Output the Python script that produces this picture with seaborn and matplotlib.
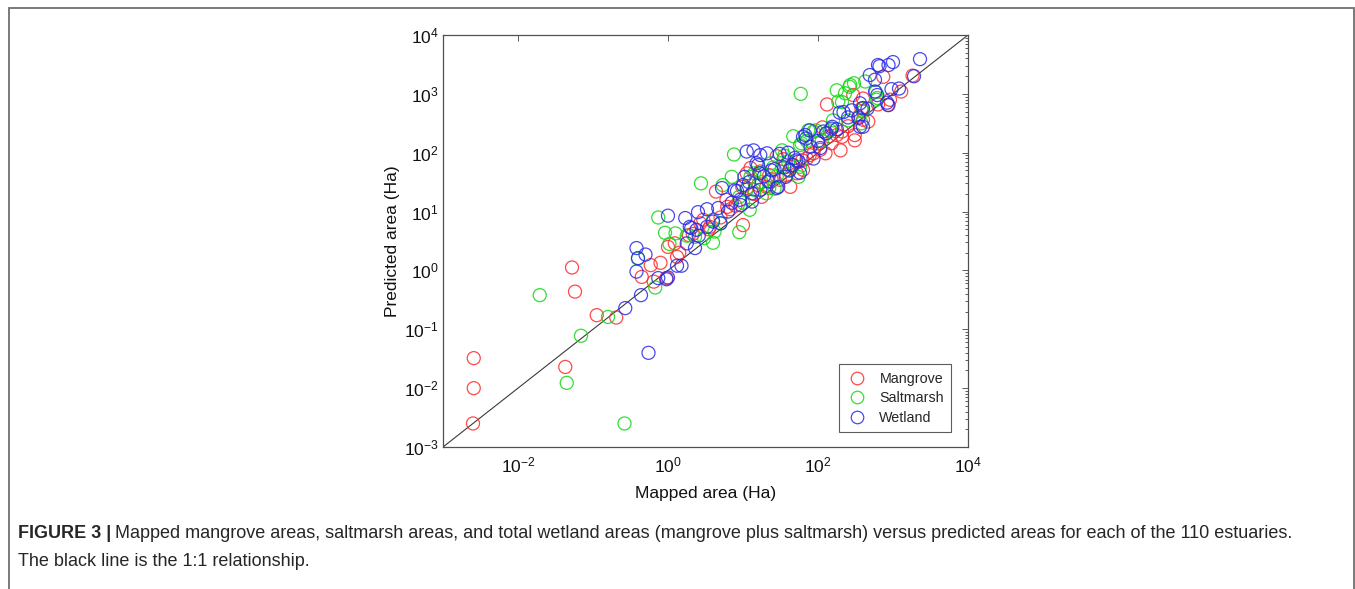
import numpy as np
import pandas as pd
import matplotlib
matplotlib.use("Agg")
import matplotlib.pyplot as plt
import seaborn as sns
from matplotlib.lines import Line2D
from matplotlib.patches import Rectangle
from matplotlib.ticker import FixedLocator, LogLocator, NullLocator, LogFormatterSciNotation, NullFormatter

# log10(mapped area), log10(predicted area) in Ha
mangrove = [
    (-2.59, -1.49), (-2.59, -2.00), (-2.60, -2.60), (-1.37, -1.64), (-1.28, 0.05),
    (-1.24, -0.36), (-0.95, -0.76), (-0.69, -0.80), (-0.35, -0.11), (-0.23, 0.09),
    (-0.10, 0.13), (-0.19, -0.19), (0.00, 0.40), (0.09, 0.46), (0.12, 0.23),
    (0.15, 0.30), (-0.02, -0.13), (0.28, 0.60), (0.33, 0.62), (0.43, 0.80),
    (0.54, 0.70), (0.47, 0.86), (0.56, 0.74), (0.64, 1.34), (0.78, 1.20),
    (0.79, 1.08), (0.83, 1.04), (1.00, 0.77), (0.99, 1.42), (1.05, 1.65),
    (1.10, 1.74), (1.23, 1.68), (1.25, 1.25), (1.05, 1.40), (1.31, 1.42),
    (1.20, 1.45), (1.38, 1.55), (1.45, 1.94), (1.49, 1.54), (1.54, 1.89),
    (1.63, 1.42), (1.67, 1.79), (1.64, 1.76), (1.80, 1.71), (1.79, 1.87),
    (1.89, 1.96), (1.94, 1.99), (2.00, 2.16), (2.03, 2.05), (2.06, 2.43),
    (2.10, 1.99), (2.12, 2.82), (2.18, 2.16), (2.30, 2.04), (2.32, 2.27),
    (2.32, 2.36), (2.49, 2.30), (2.49, 2.21), (2.54, 2.61), (2.60, 2.56),
    (2.47, 2.98), (2.60, 2.92), (2.67, 2.53), (2.58, 2.75), (2.80, 2.82),
    (2.87, 3.29), (2.93, 2.81), (2.96, 2.90), (3.11, 3.04), (3.26, 3.31),
    (1.15, 1.30), (1.35, 1.62), (1.58, 1.62), (1.72, 1.65), (1.85, 1.90),
    (2.15, 2.28), (2.25, 2.30), (2.40, 2.45), (0.90, 1.10), (0.70, 0.90),
]
saltmarsh = [
    (-1.71, -0.42), (-0.80, -0.79), (-1.16, -1.11), (-1.35, -1.91), (-0.58, -2.60),
    (-0.40, 0.20), (-0.17, -0.29), (-0.04, 0.64), (-0.13, 0.90), (0.02, 0.45),
    (0.10, 0.63), (0.25, 0.59), (0.36, 0.57), (0.48, 0.55), (0.44, 1.48),
    (0.60, 0.47), (0.60, 0.86), (0.62, 0.66), (0.70, 0.80), (0.73, 1.45),
    (0.85, 1.59), (0.88, 1.97), (0.95, 0.65), (1.09, 1.03), (1.05, 1.37),
    (1.10, 1.59), (1.15, 1.37), (1.15, 1.65), (1.23, 1.65), (1.31, 1.31),
    (1.35, 1.40), (1.37, 1.82), (1.42, 1.39), (1.45, 1.60), (1.52, 1.76),
    (1.52, 2.04), (1.60, 1.85), (1.67, 2.28), (1.74, 1.59), (1.76, 1.76),
    (1.76, 2.13), (1.78, 2.16), (1.77, 3.00), (1.87, 2.38), (1.94, 2.36),
    (1.97, 2.38), (2.11, 2.33), (2.16, 2.38), (2.25, 3.06), (2.27, 2.87),
    (2.32, 2.86), (2.42, 3.12), (2.43, 3.15), (2.48, 3.18), (2.36, 3.01),
    (2.58, 2.50), (2.60, 2.75), (2.60, 2.70), (2.63, 3.21), (2.77, 3.03),
    (2.78, 2.90), (2.79, 2.93),
    (1.25, 1.50), (1.40, 1.75), (1.55, 1.95), (1.85, 2.20), (2.05, 2.20),
    (0.95, 1.25), (1.00, 1.15), (2.20, 2.55), (2.40, 2.55), (1.62, 1.70),
]
wetland = [
    (-0.57, -0.64), (-0.36, -0.42), (-0.26, -1.40), (-0.42, 0.38), (-0.40, 0.21),
    (-0.30, 0.27), (-0.42, -0.02), (-0.13, -0.13), (-0.02, -0.15), (0.12, 0.08),
    (0.00, -0.12), (0.18, 0.08), (0.00, 0.93), (0.23, 0.89), (0.40, 0.99),
    (0.52, 1.04), (0.31, 0.72), (0.38, 0.69), (0.29, 0.74), (0.41, 0.59),
    (0.25, 0.46), (0.36, 0.38), (0.60, 0.83), (0.52, 0.74), (0.70, 0.80),
    (0.72, 1.40), (0.67, 1.06), (0.89, 1.36), (0.92, 1.35), (0.96, 1.20),
    (0.97, 1.11), (1.05, 2.02), (1.14, 2.04), (1.02, 1.59), (1.00, 1.45),
    (1.12, 1.17), (1.12, 1.31), (1.18, 1.82), (1.20, 1.79), (1.22, 1.65),
    (1.23, 1.37), (1.23, 1.96), (1.32, 1.99), (1.34, 1.51), (1.42, 1.72),
    (1.45, 1.40), (1.47, 1.42), (1.49, 1.98), (1.57, 1.59), (1.66, 1.79),
    (1.69, 1.91), (1.71, 1.87), (1.74, 1.85), (1.76, 1.66), (1.80, 2.27),
    (1.83, 2.30), (1.84, 2.24), (1.89, 2.38), (1.94, 1.90), (2.03, 2.08),
    (2.07, 2.36), (2.11, 2.33), (2.18, 2.41), (2.19, 2.44), (2.29, 2.68),
    (2.34, 2.69), (2.45, 2.72), (2.54, 2.59), (2.56, 2.84), (2.56, 2.44),
    (2.60, 2.76), (2.60, 2.44), (2.69, 3.32), (2.76, 3.24), (2.76, 3.04),
    (2.80, 3.49), (2.82, 3.47), (2.94, 3.49), (3.00, 3.54), (3.36, 3.59),
    (3.08, 3.09), (2.98, 3.08), (2.94, 2.81), (2.92, 2.85), (3.28, 3.30),
    (2.79, 2.98), (2.66, 2.75),
    (1.28, 1.60), (1.38, 1.70), (1.55, 1.75), (1.62, 1.70), (1.90, 2.10),
    (2.00, 2.20), (0.80, 1.00), (0.85, 1.15), (1.08, 1.50), (2.40, 2.60),
    (2.25, 2.40), (1.60, 2.00),
]

series_names = ["Mangrove", "Saltmarsh", "Wetland"]
series_colors = ["#ff2a2a", "#10d810", "#2a2ae8"]
caption_bold = "FIGURE 3 |"
caption_line1 = ("Mapped mangrove areas, saltmarsh areas, and total wetland areas (mangrove plus "
                 "saltmarsh) versus predicted areas for each of the 110 estuaries.")
caption_line2 = "The black line is the 1:1 relationship."

frames = []
for name, pts in zip(series_names, [mangrove, saltmarsh, wetland]):
    arr = np.array(pts)
    frames.append(pd.DataFrame({"mapped": 10 ** arr[:, 0], "predicted": 10 ** arr[:, 1], "type": name}))
df = pd.concat(frames, ignore_index=True)

sns.set_theme(style="white")
plt.rcParams["font.family"] = ["Liberation Sans", "DejaVu Sans"]
plt.rcParams["mathtext.default"] = "regular"
plt.rcParams["axes.unicode_minus"] = False

fig = plt.figure(figsize=(13.55, 5.89), dpi=100)
ax = fig.add_axes([443 / 1355, 1 - 447 / 589, 525 / 1355, 412 / 589])

# 1:1 line
ax.plot([1e-3, 1e4], [1e-3, 1e4], color="#3a3a3a", lw=0.8, zorder=1)

sns.scatterplot(data=df, x="mapped", y="predicted", hue="type", palette=dict(zip(series_names, series_colors)),
                marker="o", s=88, linewidth=0.9, legend=False, ax=ax, zorder=2)
coll = ax.collections[-1]
coll.set_edgecolors(coll.get_facecolors())
coll.set_facecolors("none")
coll.set_alpha(0.85)

ax.set_xscale("log")
ax.set_yscale("log")
ax.set_xlim(1e-3, 1e4)
ax.set_ylim(1e-3, 1e4)

ax.xaxis.set_major_locator(FixedLocator([1e-2, 1e0, 1e2, 1e4]))
ax.xaxis.set_major_formatter(LogFormatterSciNotation())
ax.xaxis.set_minor_locator(NullLocator())
ax.yaxis.set_major_locator(LogLocator(base=10, numticks=12))
ax.yaxis.set_major_formatter(LogFormatterSciNotation())
ax.yaxis.set_minor_locator(LogLocator(base=10, subs=np.arange(2, 10), numticks=12))
ax.yaxis.set_minor_formatter(NullFormatter())

ax.tick_params(which="both", direction="in", top=True, right=True, color="#404040", width=0.6,
               labelsize=12.5, labelcolor="#111111")
ax.tick_params(which="major", length=4.5)
ax.tick_params(which="minor", length=2.5)
ax.tick_params(axis="x", pad=6)
ax.tick_params(axis="y", pad=3)
for sp in ax.spines.values():
    sp.set_color("#505050")
    sp.set_linewidth(0.9)

ax.set_xlabel("Mapped area (Ha)", fontsize=12.5, color="#111111")
ax.set_ylabel("Predicted area (Ha)", fontsize=12.5, color="#111111")
ax.xaxis.set_label_coords(0.5, -0.095)
ax.yaxis.set_label_coords(-0.082, 0.5)

handles = [Line2D([], [], ls="none", marker="o", markersize=9, markerfacecolor="none",
                  markeredgecolor=c, markeredgewidth=0.9, alpha=0.85) for c in series_colors]
leg = ax.legend(handles, series_names, loc="lower right", bbox_to_anchor=(0.968, 0.036),
                borderaxespad=0, fontsize=10.3, frameon=True, fancybox=False, labelspacing=0.4,
                handletextpad=0.8, borderpad=0.5, handlelength=1.5)
leg.get_frame().set_edgecolor("#333333")
leg.get_frame().set_linewidth(0.8)

# outer frame of the figure panel
fig.patches.append(Rectangle((9 / 1355, -0.05), 1344.5 / 1355, 1.05 - 8 / 589, transform=fig.transFigure,
                             fill=False, edgecolor="#707070", lw=1.3))

t1 = fig.text(18 / 1355, 1 - 533 / 589, caption_bold, fontsize=13, fontweight="bold", va="center")
fig.canvas.draw()
bb = t1.get_window_extent()
fig.text(bb.x1 / fig.bbox.width + 4 / 1355, 1 - 533 / 589, caption_line1, fontsize=13, va="center")
fig.text(18 / 1355, 1 - 561 / 589, caption_line2, fontsize=13, va="center")

fig.savefig("out.png", dpi=100)
